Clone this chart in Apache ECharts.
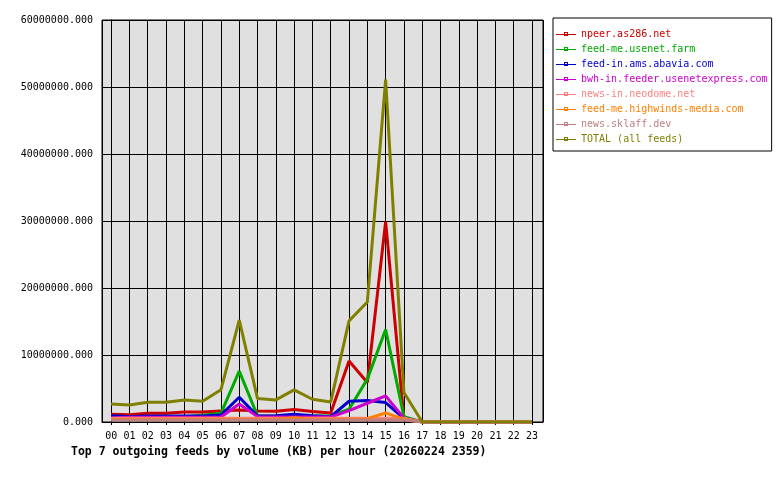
<!DOCTYPE html>
<html>
<head>
<meta charset="utf-8">
<title>Top 7 outgoing feeds</title>
<script src="https://cdn.jsdelivr.net/npm/echarts@6/dist/echarts.min.js"></script>
<style>
html,body{margin:0;padding:0;background:#fff;}
#main{width:780px;height:480px;}
</style>
</head>
<body>
<div id="main"></div>
<script>
var hours = ['00','01','02','03','04','05','06','07','08','09','10','11','12','13','14','15','16','17','18','19','20','21','22','23'];

// KB per hour
var npeer = [1150000,1100000,1300000,1300000,1500000,1500000,1650000,1800000,1650000,1600000,1850000,1550000,1350000,9100000,5900000,29900000,500000,0,0,0,0,0,0,0];
var usenetFarm = [800000,800000,800000,800000,800000,1000000,1300000,7600000,900000,900000,900000,900000,900000,1900000,6400000,13800000,800000,0,0,0,0,0,0,0];
var abavia = [950000,800000,900000,900000,900000,900000,1050000,3700000,900000,950000,1150000,950000,800000,3100000,3200000,2900000,550000,0,0,0,0,0,0,0];
var usenetexpress = [600000,700000,700000,700000,700000,700000,750000,2700000,800000,750000,750000,750000,750000,1700000,2800000,3900000,550000,0,0,0,0,0,0,0];
var neodome = [550000,550000,550000,550000,550000,550000,550000,550000,550000,550000,550000,550000,550000,550000,550000,550000,550000,0,0,0,0,0,0,0];
var highwinds = [400000,400000,400000,400000,400000,400000,400000,400000,400000,400000,650000,400000,400000,400000,500000,1350000,400000,0,0,0,0,0,0,0];
var sklaff = [300000,300000,300000,300000,300000,300000,300000,300000,300000,300000,300000,300000,300000,300000,300000,300000,300000,0,0,0,0,0,0,0];
var total = [2700000,2550000,2950000,2950000,3300000,3100000,4800000,15200000,3500000,3300000,4800000,3400000,3000000,15100000,17900000,51100000,4400000,0,0,0,0,0,0,0];

var feeds = [
	{name:'npeer.as286.net', color:'#cc0000', values:npeer},
	{name:'feed-me.usenet.farm', color:'#00aa00', values:usenetFarm},
	{name:'feed-in.ams.abavia.com', color:'#0000cc', values:abavia},
	{name:'bwh-in.feeder.usenetexpress.com', color:'#cc00cc', values:usenetexpress},
	{name:'news-in.neodome.net', color:'#ff8080', values:neodome},
	{name:'feed-me.highwinds-media.com', color:'#ff8000', values:highwinds},
	{name:'news.sklaff.dev', color:'#c08080', values:sklaff},
	{name:'TOTAL (all feeds)', color:'#808000', values:total}
];

var mono = '"DejaVu Sans Mono", "Liberation Mono", monospace';
var legendIcon = 'path://M0,2H20V3H0Z M8,0H12V4H8Z M9,1V3H11V1Z';

var series = [], legendData = [];
for (var i = 0; i < feeds.length; i++) {
	var f = feeds[i];
	var pts = [];
	for (var h = 0; h < hours.length; h++) {
		pts.push([h, f.values[h]]);
	}
	series.push({
		name: f.name,
		type: 'line',
		data: pts,
		showSymbol: false,
		symbol: 'none',
		color: f.color,
		lineStyle: {width: 3, color: f.color},
		emphasis: {disabled: true}
	});
	legendData.push({name: f.name, icon: legendIcon, textStyle: {color: f.color}});
}

var option = {
	animation: false,
	backgroundColor: '#fff',
	title: {
		text: 'Top 7 outgoing feeds by volume (KB) per hour (20260224 2359)',
		left: 71,
		top: 446,
		padding: 0,
		textStyle: {fontFamily: mono, fontSize: 11.5, fontWeight: 'bold', color: '#000', lineHeight: 13}
	},
	legend: {
		orient: 'vertical',
		left: 553,
		top: 18,
		padding: [10, 4, 6, 3],
		itemWidth: 20,
		itemHeight: 4,
		itemGap: 3,
		borderColor: '#000',
		borderWidth: 1,
		borderRadius: 0,
		backgroundColor: '#fff',
		selectedMode: false,
		data: legendData,
		textStyle: {fontFamily: mono, fontSize: 10, lineHeight: 12, padding: [0, 0, 0, 0]}
	},
	grid: {
		left: 102,
		top: 20,
		right: 237,
		bottom: 58,
		show: true,
		backgroundColor: '#e0e0e0',
		borderColor: '#000',
		borderWidth: 1
	},
	xAxis: {
		type: 'value',
		min: -0.5,
		max: 23.6,
		splitNumber: 24,
		minInterval: 1,
		maxInterval: 1,
		axisLine: {show: true, lineStyle: {color: '#000', width: 1}},
		axisTick: {show: true, length: 3, lineStyle: {color: '#000'}},
		axisLabel: {
			margin: 9,
			fontFamily: mono,
			fontSize: 10,
			color: '#000',
			showMinLabel: false,
			showMaxLabel: false,
			formatter: function (v) {
				return (Math.round(v) === v && v >= 0 && v < hours.length) ? hours[v] : '';
			}
		},
		splitLine: {show: true, lineStyle: {color: '#000', width: 1}}
	},
	yAxis: {
		type: 'value',
		min: 0,
		max: 60000000,
		interval: 10000000,
		axisLine: {show: true, lineStyle: {color: '#000', width: 1}},
		axisTick: {show: true, length: 4, lineStyle: {color: '#000'}},
		axisLabel: {
			margin: 9,
			fontFamily: mono,
			fontSize: 10,
			color: '#000',
			formatter: function (v) { return v.toFixed(3); }
		},
		splitLine: {show: true, lineStyle: {color: '#000', width: 1}}
	},
	series: series
};

var myChart = echarts.init(document.getElementById('main'), null, {renderer: 'canvas'});
myChart.setOption(option);
</script>
</body>
</html>
